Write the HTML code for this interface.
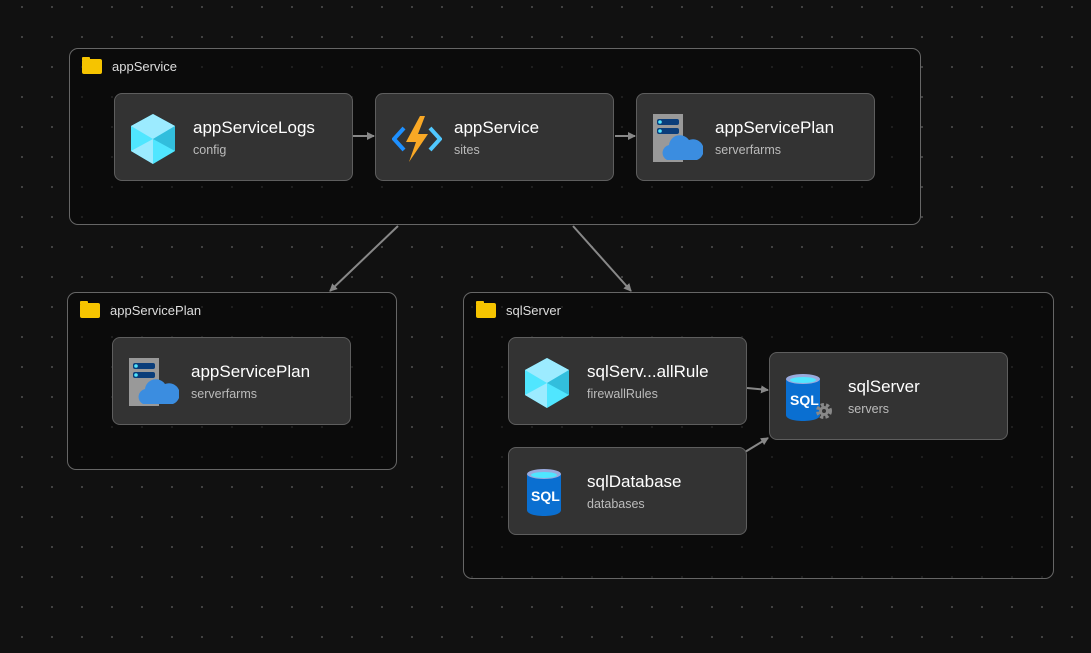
<!DOCTYPE html>
<html><head><meta charset="utf-8"><style>
html,body{margin:0;padding:0}
body{width:1091px;height:653px;overflow:hidden;background-color:#111;background-image:radial-gradient(circle,#4a4a4a 0.9px,transparent 1.2px);background-size:30px 30px;background-position:7px -8px;font-family:"Liberation Sans",sans-serif;position:relative}
.g{position:absolute;border:1px solid #666;border-radius:9px;background:rgba(8,8,8,0.6)}
.gl{position:absolute;left:12px;top:10px;color:#ddd;font-size:13px;display:flex;align-items:center}
.gl i{display:inline-block;width:20px;height:15px;background:#f6c400;border-radius:2px;margin-right:10px;position:relative}
.gl i:before{content:"";position:absolute;left:0;top:-2px;width:8px;height:3px;background:#f6c400;border-radius:1px 1px 0 0}
.n{position:absolute;width:239px;height:88px;background:#333;border:1px solid #5e5e5e;border-radius:8px;box-sizing:border-box}
.n svg{position:absolute;left:16px;top:20px}
.t{position:absolute;left:78px;top:24px;color:#fff;font-size:17px}
.s{position:absolute;left:78px;top:49px;color:#bbb;font-size:12.5px}
</style></head><body>
<div class="g" style="left:69px;top:48px;width:850px;height:175px"><div class="gl"><i></i>appService</div></div>
<div class="g" style="left:67px;top:292px;width:328px;height:176px"><div class="gl"><i></i>appServicePlan</div></div>
<div class="g" style="left:463px;top:292px;width:589px;height:285px"><div class="gl"><i></i>sqlServer</div></div>

<svg width="1091" height="653" style="position:absolute;left:0;top:0">
<defs><marker id="a" markerWidth="8" markerHeight="8" refX="7" refY="4" orient="auto" markerUnits="userSpaceOnUse"><path d="M0,0L8,4L0,8z" fill="#888"/></marker></defs>
<g stroke="#888" stroke-width="2" fill="none" marker-end="url(#a)">
<line x1="353" y1="136" x2="374" y2="136"/>
<line x1="615" y1="136" x2="635" y2="136"/>
<line x1="398" y1="226" x2="330" y2="291"/>
<line x1="573" y1="226" x2="631" y2="291"/>
<line x1="747" y1="388" x2="768" y2="390"/>
<line x1="745" y1="452" x2="768" y2="438"/>
</g></svg>

<div class="n" style="left:114px;top:93px"><svg width="44" height="50" viewBox="0 0 44 50"><polygon points="22,0 44,12 44,37 22,50 0,37 0,12" fill="#50e6ff"/><polygon points="22,0 44,12 22,25 0,12" fill="#9cebff"/><polygon points="44,12 44,37 22,25" fill="#32bedd"/><polygon points="0,37 22,25 22,50" fill="#9cebff"/></svg><div class="t">appServiceLogs</div><div class="s">config</div></div>

<div class="n" style="left:375px;top:93px"><svg width="50" height="50" viewBox="0 0 50 50"><path d="M12,14L2,25L12,36" stroke="#1e90ff" stroke-width="4" fill="none"/><path d="M38,14L48,25L38,36" stroke="#50c8ff" stroke-width="4" fill="none"/><polygon points="28,2 14,28 24,28 17,48 36,20 26,20 33,2" fill="#f9a825"/></svg><div class="t">appService</div><div class="s">sites</div></div>

<div class="n" style="left:636px;top:93px"><svg width="50" height="50" viewBox="0 0 50 50"><rect x="0" y="0" width="30" height="48" fill="#999"/><rect x="4" y="5" width="22" height="6" rx="2" fill="#0a3d7a"/><rect x="4" y="14" width="22" height="6" rx="2" fill="#0a3d7a"/><circle cx="7" cy="8" r="1.8" fill="#50e6ff"/><circle cx="7" cy="17" r="1.8" fill="#50e6ff"/><path d="M14,46a8,8 0 0 1 2,-15a11,11 0 0 1 20,-5a9,9 0 0 1 8,20z" fill="#3b8de0"/></svg><div class="t">appServicePlan</div><div class="s">serverfarms</div></div>

<div class="n" style="left:112px;top:337px"><svg width="50" height="50" viewBox="0 0 50 50"><rect x="0" y="0" width="30" height="48" fill="#999"/><rect x="4" y="5" width="22" height="6" rx="2" fill="#0a3d7a"/><rect x="4" y="14" width="22" height="6" rx="2" fill="#0a3d7a"/><circle cx="7" cy="8" r="1.8" fill="#50e6ff"/><circle cx="7" cy="17" r="1.8" fill="#50e6ff"/><path d="M14,46a8,8 0 0 1 2,-15a11,11 0 0 1 20,-5a9,9 0 0 1 8,20z" fill="#3b8de0"/></svg><div class="t">appServicePlan</div><div class="s">serverfarms</div></div>

<div class="n" style="left:508px;top:337px"><svg width="44" height="50" viewBox="0 0 44 50"><polygon points="22,0 44,12 44,37 22,50 0,37 0,12" fill="#50e6ff"/><polygon points="22,0 44,12 22,25 0,12" fill="#9cebff"/><polygon points="44,12 44,37 22,25" fill="#32bedd"/><polygon points="0,37 22,25 22,50" fill="#9cebff"/></svg><div class="t">sqlServ...allRule</div><div class="s">firewallRules</div></div>

<div class="n" style="left:769px;top:352px"><svg width="52" height="50" viewBox="0 0 52 50"><path d="M0,6v36c0,4 8,6 17,6s17,-2 17,-6v-36z" fill="#0a6fd1"/><ellipse cx="17" cy="6" rx="17" ry="5" fill="#9ad"/><ellipse cx="17" cy="7" rx="13" ry="3" fill="#50e6ff"/><text x="4" y="32" font-family="Liberation Sans" font-weight="bold" font-size="14" fill="#fff">SQL</text><circle cx="38" cy="38" r="6" fill="none" stroke="#888" stroke-width="4" stroke-dasharray="3 2"/><circle cx="38" cy="38" r="5" fill="#888"/><circle cx="38" cy="38" r="2" fill="#333"/></svg><div class="t">sqlServer</div><div class="s">servers</div></div>

<div class="n" style="left:508px;top:447px"><svg width="40" height="50" viewBox="0 0 40 50"><path d="M2,6v36c0,4 8,6 17,6s17,-2 17,-6v-36z" fill="#0a6fd1"/><ellipse cx="19" cy="6" rx="17" ry="5" fill="#9ad"/><ellipse cx="19" cy="7" rx="13" ry="3" fill="#50e6ff"/><text x="6" y="33" font-family="Liberation Sans" font-weight="bold" font-size="14" fill="#fff">SQL</text></svg><div class="t">sqlDatabase</div><div class="s">databases</div></div>
</body></html>
